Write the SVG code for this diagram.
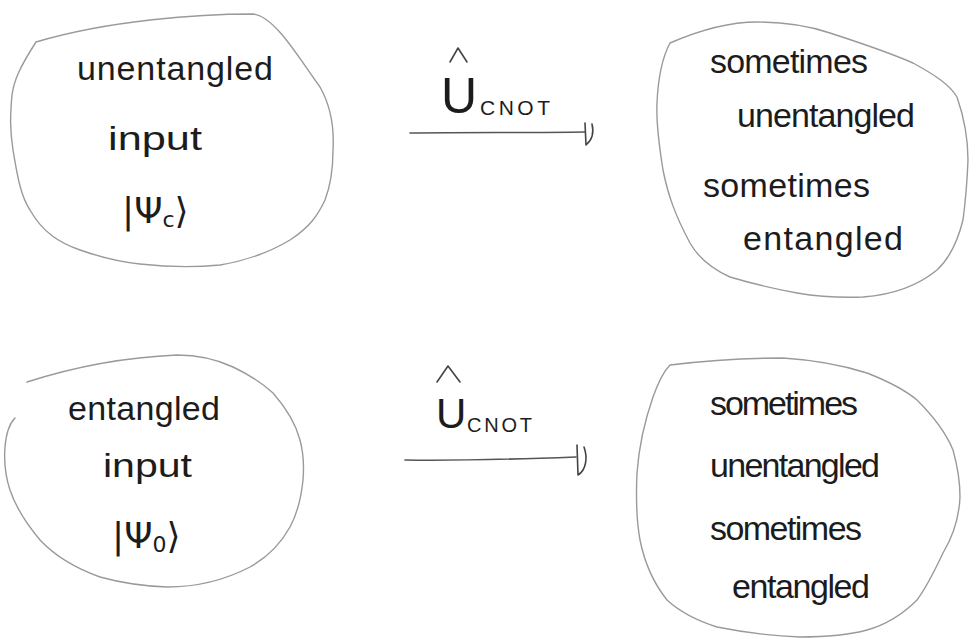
<svg xmlns="http://www.w3.org/2000/svg" width="969" height="642" viewBox="0 0 969 642">
<style>
.blob{fill:none;stroke:#9a9a9a;stroke-width:1.4;stroke-linejoin:round;stroke-linecap:round}
.t{font-family:"Liberation Sans","DejaVu Sans",sans-serif;font-size:34px;fill:#1c1c1c}
.ket{font-family:"DejaVu Sans","Liberation Sans",sans-serif;font-size:36px;fill:#1c1c1c}
.sub{font-size:22px}
.op{font-family:"Liberation Sans","DejaVu Sans",sans-serif;fill:#1c1c1c}
.arr{fill:none;stroke:#555;stroke-width:1.6;stroke-linecap:round}
.head{fill:none;stroke:#444;stroke-width:1.6;stroke-linecap:round;stroke-linejoin:round}
</style>
<rect width="969" height="642" fill="#fff"/>

<g id="node-unentangled-input">
<path class="blob" d="M36,42 C110,20 200,14 253,14 C275,16 300,60 320,87 C333,110 334,133 333,150 C333,170 330,187 325,200 C318,215 310,227 290,240 C270,252 250,260 220,265 C190,268 167,267 140,264 C120,262 100,257 80,250 C60,243 43,233 30,210 C20,195 17,173 13,150 C10,130 10,117 12,95 C14,80 20,67 36,42 Z"/>
<text class="t" x="77" y="80" textLength="196">unentangled</text>
<text class="t" x="108" y="150" textLength="94" lengthAdjust="spacingAndGlyphs">input</text>
<text class="ket" x="122" y="223">|Ψ<tspan class="sub" dy="4">c</tspan><tspan dy="-4">⟩</tspan></text>
</g>

<g id="node-top-output">
<path class="blob" d="M670,43 C700,30 730,22 757,22 C790,22 812,27 830,33 C870,46 895,55 913,63 C935,75 950,85 957,97 C965,120 968,140 968,160 C967,185 965,205 963,220 C958,240 950,258 937,270 C915,288 890,295 863,297 C840,298 815,296 797,293 C770,288 750,283 730,277 C710,268 698,257 690,243 C675,215 668,195 663,170 C659,145 656,123 657,103 C658,80 662,58 670,43 Z"/>
<text class="t" x="710" y="73" textLength="158">sometimes</text>
<text class="t" x="737" y="127" textLength="178">unentangled</text>
<text class="t" x="703" y="197" textLength="167">sometimes</text>
<text class="t" x="743" y="250" textLength="160">entangled</text>
</g>

<g id="node-entangled-input">
<path class="blob" d="M27,382 C80,365 130,357 177,355 C200,355 218,360 233,367 C250,375 262,383 273,393 C288,410 296,425 300,440 C304,455 304,468 303,480 C301,500 297,514 290,527 C280,545 268,557 250,567 C225,580 195,587 167,587 C140,586 118,582 100,577 C75,568 55,556 40,540 C25,522 15,505 10,490 C5,475 4,460 5,447 C6,435 8,425 15,418"/>
<text class="t" x="68" y="420" textLength="152">entangled</text>
<text class="t" x="103" y="477" textLength="89" lengthAdjust="spacingAndGlyphs">input</text>
<text class="ket" x="112" y="548">|Ψ<tspan class="sub" dy="4">0</tspan><tspan dy="-4">⟩</tspan></text>
</g>

<g id="node-bottom-output">
<path class="blob" d="M670,365 C710,360 750,358 783,358 C815,360 845,366 867,373 C890,382 905,390 917,400 C935,418 947,435 953,450 C958,468 960,482 960,497 C959,520 952,538 943,553 C935,570 928,585 917,600 C902,615 885,625 867,630 C845,636 822,637 800,637 C770,636 742,632 717,627 C695,620 680,612 667,600 C655,585 645,565 640,540 C636,518 636,495 637,473 C639,445 645,420 653,397 C658,383 663,372 670,365 Z"/>
<text class="t" x="710" y="415" textLength="148">sometimes</text>
<text class="t" x="710" y="477" textLength="170">unentangled</text>
<text class="t" x="710" y="540" textLength="152">sometimes</text>
<text class="t" x="732" y="598" textLength="138">entangled</text>
</g>

<g id="connectors">
<g id="edge-top">
<path class="arr" d="M410,133 C470,132 530,133 585,132"/>
<path class="head" d="M585,123 L586,145 C592,140 594,132 592,124"/>
<text class="op" x="441" y="113" font-size="50">U</text>
<path class="head" d="M450,62 L458,48 L467,62"/>
<text class="op" x="480" y="115" font-size="21" textLength="70">CNOT</text>
</g>
<g id="edge-bottom">
<path class="arr" d="M405,460 C460,461 520,459 576,457"/>
<path class="head" d="M577,445 L578,475 C586,470 588,458 584,447"/>
<text class="op" x="436" y="428" font-size="42">U</text>
<path class="head" d="M437,382 L448,366 L460,382"/>
<text class="op" x="467" y="432" font-size="20" textLength="65">CNOT</text>
</g>
</g>
</svg>
